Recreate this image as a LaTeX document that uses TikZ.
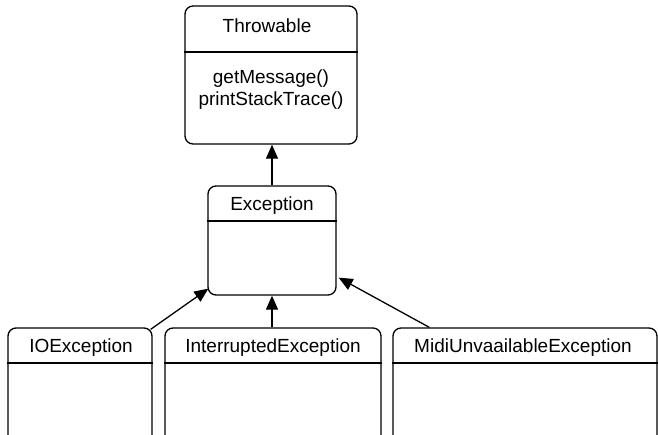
\documentclass[tikz,border=0pt]{standalone}
\usepackage{fontspec}
\setmainfont{Liberation Sans}
\usetikzlibrary{arrows.meta,calc}
\begin{document}
\begin{tikzpicture}[x=1pt,y=-1pt,
  box/.style={draw=black,line width=1.3pt,rounded corners=8pt,rectangle,inner sep=0pt},
  lbl/.style={anchor=base,inner sep=0pt,font=\fontsize{19}{22}\selectfont},
  div/.style={line width=1.3pt},
  arr/.style={line width=1.3pt,-{Triangle[length=14pt,width=12pt]}}]
\useasboundingbox (0,0) rectangle (658,434);
\clip (0,0) rectangle (658,434);
\node[box,minimum width=172pt,minimum height=138pt] (thr) at (271,75) {};
\node[box,minimum width=128pt,minimum height=109pt] (exc) at (272,240.5) {};
\node[box,minimum width=144pt,minimum height=142pt] (io) at (80,399) {};
\node[box,minimum width=216pt,minimum height=142pt] (int) at (273,399) {};
\node[box,minimum width=264pt,minimum height=142pt] (midi) at (525,399) {};
% dividers
\draw[div] (thr.west |- 0,52) -- (thr.east |- 0,52);
\draw[div] (exc.west |- 0,221) -- (exc.east |- 0,221);
\draw[div] (io.west |- 0,363) -- (io.east |- 0,363);
\draw[div] (int.west |- 0,363) -- (int.east |- 0,363);
\draw[div] (midi.west |- 0,363) -- (midi.east |- 0,363);
% labels
\node[lbl] (thrt) at (267,32) {Throwable};
\node[lbl] (m1) at (271,83) {getMessage()};
\node[lbl] (m2) at (271,105) {printStackTrace()};
\node[lbl] (exct) at (272,210) {Exception};
\node[lbl] (iot) at (81,352) {IOException};
\node[lbl] (intt) at (273,352) {InterruptedException};
\node[lbl] (midit) at (523,352) {MidiUnvaailableException};
% arrows
\draw[arr] (exc.north) -- (exc.north |- thr.south);
\draw[arr] (exc.south |- int.north) -- (exc.south);
\draw[arr] ([xshift=-2pt,yshift=-2pt]io.north east) -- ([xshift=1pt,yshift=7pt]exc.south west);
\draw[arr] ([xshift=37pt]midi.north west) -- ([xshift=2pt,yshift=18pt]exc.south east);
\end{tikzpicture}
\end{document}
